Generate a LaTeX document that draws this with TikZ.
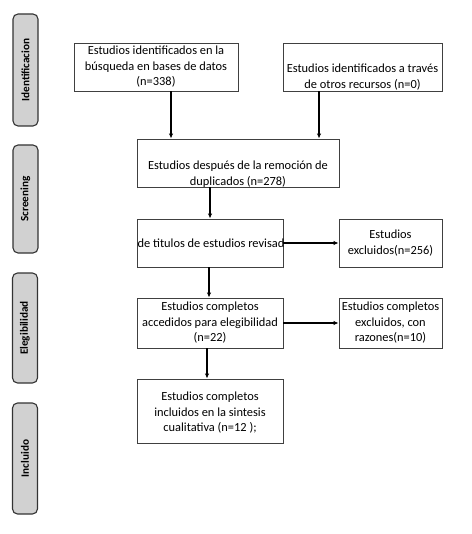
\documentclass[tikz,border=0pt]{standalone}
\usepackage{fontspec}
\setmainfont{Carlito}
\usetikzlibrary{arrows.meta}
\begin{document}
\begin{tikzpicture}[x=1pt,y=-1pt,
  boxst/.style={draw=black!75,line width=0.9pt,fill=white,inner sep=0pt,align=center,
    font=\fontsize{12.4}{15.5}\selectfont},
  txt/.style={inner sep=0pt,align=center,font=\fontsize{12.4}{15.5}\selectfont},
  phase/.style={draw=black!80,line width=1.1pt,fill=black!18,rounded corners=5pt,
    minimum width=25pt,inner sep=0pt},
  phasetxt/.style={rotate=90,font=\fontsize{11.2}{13}\selectfont\bfseries,inner sep=0pt},
  arr/.style={-{Latex[length=5pt,width=4.5pt]},line width=1.1pt,black}]
\useasboundingbox (0,0) rectangle (471,534);
% phase labels
\node[phase,minimum height=112pt] (p1) at (25.5,70) {};
\node[phasetxt] (p1t) at (p1.center) {Identificacion};
\node[phase,minimum height=108pt] (p2) at (25.5,199) {};
\node[phasetxt] (p2t) at (p2.center) {Screening};
\node[phase,minimum height=110pt] (p3) at (25,328) {};
\node[phasetxt] (p3t) at (p3.center) {Elegibilidad};
\node[phase,minimum height=111pt] (p4) at (25,458.5) {};
\node[phasetxt] (p4t) at (p4.center) {Incluido};
% boxes
\node[boxst,minimum width=164pt,minimum height=48pt] (b1) at (156,67)
  {Estudios identificados en la\\búsqueda en bases de datos\\(n=338)};
\node[boxst,minimum width=159pt,minimum height=48pt] (b2) at (362.5,67) {};
\node[txt] (b2t) at ([yshift=-10pt]b2.center) {Estudios identificados a través\\de otros recursos (n=0)};
\node[boxst,minimum width=202pt,minimum height=48pt] (b3) at (238,163) {};
\node[txt] (b3t) at ([yshift=-11pt]b3.center) {Estudios después de la remoción de\\duplicados (n=278)};
\node[boxst,minimum width=146pt,minimum height=48pt] (b4) at (210,243) {};
\node[txt] (b4t) at ([xshift=1pt]b4.center) {de titulos de estudios revisad};
\node[boxst,minimum width=103pt,minimum height=48pt] (b5) at (390.5,243)
  {Estudios\\excluidos(n=256)};
\node[boxst,minimum width=146pt,minimum height=50pt] (b6) at (210,323)
  {Estudios completos\\accedidos para elegibilidad\\(n=22)};
\node[boxst,minimum width=103pt,minimum height=50pt] (b7) at (390.5,323)
  {Estudios completos\\excluidos, con\\razones(n=10)};
\node[boxst,minimum width=146pt,minimum height=64pt] (b8) at (210,411) {};
\node[txt] (b8t) at ([yshift=-2pt]b8.center)
  {Estudios completos\\incluidos en la sintesis\\cualitativa (n=12 );};
% arrows
\draw[arr] (b1.south -| 171,0) -- (b3.north -| 171,0);
\draw[arr] (b2.south -| 319,0) -- (b3.north -| 319,0);
\draw[arr] (b3.south -| 210,0) -- (b4.north -| 210,0);
\draw[arr] (b4.east) -- (b5.west);
\draw[arr] (b4.south -| 209,0) -- (b6.north -| 209,0);
\draw[arr] (b6.east) -- (b7.west);
\draw[arr] (b6.south -| 207,0) -- (b8.north -| 207,0);
\end{tikzpicture}
\end{document}
